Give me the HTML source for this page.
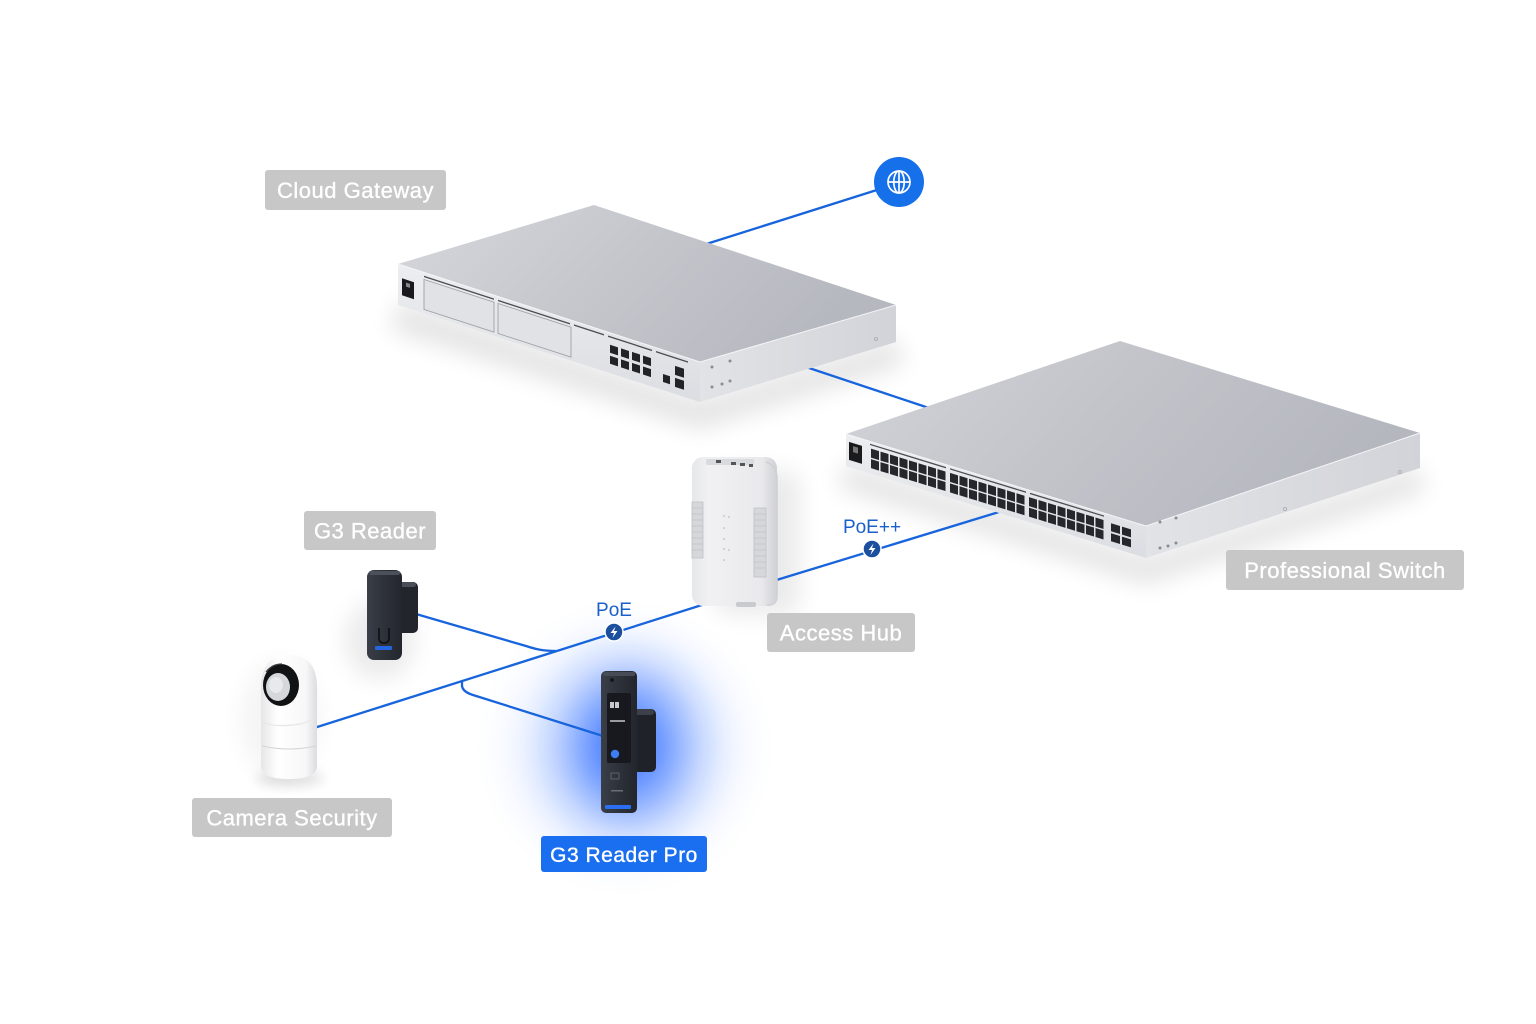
<!DOCTYPE html>
<html>
<head>
<meta charset="utf-8">
<style>
  html,body{margin:0;padding:0;background:#ffffff;}
  body{width:1536px;height:1024px;overflow:hidden;}
  svg{display:block;}
  .lbl{font-family:"Liberation Sans",sans-serif;font-size:22px;fill:#ffffff;letter-spacing:0.5px;stroke:#ffffff;stroke-width:0.35px;}
  .poe{font-family:"Liberation Sans",sans-serif;font-size:19px;fill:#1b5fca;}
</style>
</head>
<body>
<svg width="1536" height="1024" viewBox="0 0 1536 1024" xmlns="http://www.w3.org/2000/svg">
  <defs>
    <filter id="blur12" x="-50%" y="-50%" width="200%" height="200%"><feGaussianBlur stdDeviation="12"/></filter>
    <filter id="blur6" x="-50%" y="-50%" width="200%" height="200%"><feGaussianBlur stdDeviation="6"/></filter>
    <filter id="blur30" x="-100%" y="-100%" width="300%" height="300%"><feGaussianBlur stdDeviation="30"/></filter>
    <linearGradient id="topG" x1="0" y1="0" x2="1" y2="0.3">
      <stop offset="0" stop-color="#d6d7dc"/>
      <stop offset="0.55" stop-color="#c4c5cb"/>
      <stop offset="1" stop-color="#b6b8c0"/>
    </linearGradient>
    <linearGradient id="topS" x1="0" y1="0" x2="1" y2="0.3">
      <stop offset="0" stop-color="#d3d4d9"/>
      <stop offset="0.5" stop-color="#c3c4ca"/>
      <stop offset="1" stop-color="#b5b7bf"/>
    </linearGradient>
    <linearGradient id="frontG" x1="0" y1="0" x2="0" y2="1">
      <stop offset="0" stop-color="#eceef1"/>
      <stop offset="1" stop-color="#dcdde2"/>
    </linearGradient>
    <linearGradient id="rightG" x1="0" y1="0" x2="1" y2="0">
      <stop offset="0" stop-color="#e2e3e7"/>
      <stop offset="1" stop-color="#d2d3d8"/>
    </linearGradient>
    <linearGradient id="hubG" x1="0" y1="0" x2="1" y2="0">
      <stop offset="0" stop-color="#e6e7e9"/>
      <stop offset="0.2" stop-color="#f1f1f3"/>
      <stop offset="0.82" stop-color="#e9e9ec"/>
      <stop offset="1" stop-color="#d0d1d5"/>
    </linearGradient>
    <linearGradient id="camG" x1="0" y1="0" x2="1" y2="0">
      <stop offset="0" stop-color="#e6e6e8"/>
      <stop offset="0.3" stop-color="#ffffff"/>
      <stop offset="0.8" stop-color="#f7f7f8"/>
      <stop offset="1" stop-color="#dcdcdf"/>
    </linearGradient>
    <linearGradient id="darkG" x1="0" y1="0" x2="1" y2="0">
      <stop offset="0" stop-color="#3a3e48"/>
      <stop offset="0.5" stop-color="#2d3139"/>
      <stop offset="1" stop-color="#23262d"/>
    </linearGradient>
    <radialGradient id="glowG" cx="0.5" cy="0.5" r="0.5">
      <stop offset="0" stop-color="#2a6bff" stop-opacity="0.8"/>
      <stop offset="0.35" stop-color="#4a84ff" stop-opacity="0.42"/>
      <stop offset="0.7" stop-color="#9ab7ff" stop-opacity="0.14"/>
      <stop offset="1" stop-color="#ffffff" stop-opacity="0"/>
    </radialGradient>
  </defs>

  <!-- shadows -->
  <polygon points="400,300 700,398 896,338 905,365 700,430 390,330" fill="#000" opacity="0.10" filter="url(#blur12)"/>
  <polygon points="846,462 1146,556 1420,466 1425,492 1146,585 838,488" fill="#000" opacity="0.10" filter="url(#blur12)"/>
  <rect x="715" y="470" width="85" height="145" rx="14" fill="#000" opacity="0.08" filter="url(#blur12)"/>
  <ellipse cx="380" cy="640" rx="35" ry="40" fill="#000" opacity="0.08" filter="url(#blur12)"/>
  <ellipse cx="290" cy="778" rx="34" ry="8" fill="#000" opacity="0.12" filter="url(#blur6)"/>
  <ellipse cx="280" cy="720" rx="40" ry="60" fill="#000" opacity="0.04" filter="url(#blur12)"/>

  <!-- glow behind G3 Reader Pro -->
  <ellipse cx="625" cy="748" rx="155" ry="155" fill="url(#glowG)"/>
  <ellipse cx="628" cy="745" rx="40" ry="68" fill="#2a66ff" opacity="0.65" filter="url(#blur30)"/>

  <!-- connectors -->
  <g stroke="#1764dc" stroke-width="2.3" fill="none" stroke-linecap="round" stroke-linejoin="round">
    <line x1="880" y1="189" x2="700" y2="246"/>
    <line x1="806" y1="367" x2="935" y2="410"/>
    <line x1="1012" y1="508" x2="770" y2="582"/>
    <line x1="724" y1="598" x2="314" y2="728"/>
    <path d="M416,614 L526,646 C535,649 543,651 556,651"/>
    <path d="M462,681 L462,686 Q463,692 473,695 L603,736"/>
  </g>

  <!-- Cloud Gateway -->
  <g>
    <polygon points="398,264 594,205 896,305 700,362" fill="url(#topG)"/>
    <polygon points="398,264 700,362 700,402 398,305" fill="url(#frontG)"/>
    <polygon points="700,362 896,305 896,342 700,402" fill="url(#rightG)"/>
    <polyline points="398,264 700,362 896,305" fill="none" stroke="#f4f5f7" stroke-width="1"/>
    <g transform="matrix(1,0.3245,0,1,398,264)">
      <rect x="4" y="13" width="12" height="17" fill="#1a1a1c"/>
      <rect x="8" y="16" width="4" height="4" fill="#888"/>
      <line x1="26" y1="4" x2="96" y2="4" stroke="#4a4c52" stroke-width="1.4"/>
      <line x1="100" y1="4" x2="172" y2="4" stroke="#4a4c52" stroke-width="1.4"/>
      <line x1="176" y1="4" x2="206" y2="4" stroke="#4a4c52" stroke-width="1.4"/>
      <line x1="210" y1="4" x2="254" y2="4" stroke="#4a4c52" stroke-width="1.4"/>
      <line x1="258" y1="4" x2="290" y2="4" stroke="#4a4c52" stroke-width="1.4"/>
      <rect x="26" y="7" width="70" height="30" fill="#e1e2e6" stroke="#9fa1a8" stroke-width="0.9"/>
      <rect x="100" y="7" width="73" height="30" fill="#e1e2e6" stroke="#9fa1a8" stroke-width="0.9"/>
      <rect x="212" y="12" width="8" height="8" fill="#222327"/>
      <rect x="223" y="12" width="8" height="8" fill="#222327"/>
      <rect x="234" y="12" width="8" height="8" fill="#222327"/>
      <rect x="245" y="12" width="8" height="8" fill="#222327"/>
      <rect x="212" y="23" width="8" height="8" fill="#222327"/>
      <rect x="223" y="23" width="8" height="8" fill="#222327"/>
      <rect x="234" y="23" width="8" height="8" fill="#222327"/>
      <rect x="245" y="23" width="8" height="8" fill="#222327"/>
      <rect x="265" y="24" width="7" height="8" fill="#222327"/>
      <rect x="277" y="12" width="9" height="9" fill="#222327"/>
      <rect x="277" y="24" width="9" height="9" fill="#222327"/>
    </g>
    <circle cx="712" cy="367" r="1.5" fill="#8a8c92"/>
    <circle cx="730" cy="361" r="1.5" fill="#8a8c92"/>
    <circle cx="712" cy="387" r="1.5" fill="#8a8c92"/>
    <circle cx="722" cy="384" r="1.5" fill="#8a8c92"/>
    <circle cx="730" cy="381" r="1.5" fill="#8a8c92"/>
    <circle cx="876" cy="339" r="1.6" fill="none" stroke="#a9abb1" stroke-width="0.8"/>
  </g>

  <!-- Professional Switch -->
  <g>
    <polygon points="846,434 1120,341 1420,433 1146,526" fill="url(#topS)"/>
    <polygon points="846,434 1146,526 1146,558 846,466" fill="url(#frontG)"/>
    <polygon points="1146,526 1420,433 1420,468 1146,558" fill="url(#rightG)"/>
    <polyline points="846,434 1146,526 1420,433" fill="none" stroke="#f4f5f7" stroke-width="1"/>
    <g transform="matrix(1,0.3067,0,1,846,434)">
      <rect x="3" y="7" width="13" height="18" fill="#1a1a1c"/>
      <rect x="7" y="10" width="5" height="6" fill="#777"/>
      <line x1="24" y1="3" x2="100" y2="3" stroke="#4a4c52" stroke-width="1.3"/>
      <line x1="104" y1="3" x2="180" y2="3" stroke="#4a4c52" stroke-width="1.3"/>
      <line x1="184" y1="3" x2="258" y2="3" stroke="#4a4c52" stroke-width="1.3"/>
      <g id="pg" fill="#25272c">
        <rect x="25" y="7" width="8" height="9"/><rect x="34.5" y="7" width="8" height="9"/><rect x="44" y="7" width="8" height="9"/><rect x="53.5" y="7" width="8" height="9"/>
        <rect x="63" y="7" width="8" height="9"/><rect x="72.5" y="7" width="8" height="9"/><rect x="82" y="7" width="8" height="9"/><rect x="91.5" y="7" width="8" height="9"/>
        <rect x="25" y="17.5" width="8" height="9"/><rect x="34.5" y="17.5" width="8" height="9"/><rect x="44" y="17.5" width="8" height="9"/><rect x="53.5" y="17.5" width="8" height="9"/>
        <rect x="63" y="17.5" width="8" height="9"/><rect x="72.5" y="17.5" width="8" height="9"/><rect x="82" y="17.5" width="8" height="9"/><rect x="91.5" y="17.5" width="8" height="9"/>
      </g>
      <g fill="#25272c" transform="translate(79,0)">
        <rect x="25" y="7" width="8" height="9"/><rect x="34.5" y="7" width="8" height="9"/><rect x="44" y="7" width="8" height="9"/><rect x="53.5" y="7" width="8" height="9"/>
        <rect x="63" y="7" width="8" height="9"/><rect x="72.5" y="7" width="8" height="9"/><rect x="82" y="7" width="8" height="9"/><rect x="91.5" y="7" width="8" height="9"/>
        <rect x="25" y="17.5" width="8" height="9"/><rect x="34.5" y="17.5" width="8" height="9"/><rect x="44" y="17.5" width="8" height="9"/><rect x="53.5" y="17.5" width="8" height="9"/>
        <rect x="63" y="17.5" width="8" height="9"/><rect x="72.5" y="17.5" width="8" height="9"/><rect x="82" y="17.5" width="8" height="9"/><rect x="91.5" y="17.5" width="8" height="9"/>
      </g>
      <g fill="#25272c" transform="translate(158,0)">
        <rect x="25" y="7" width="8" height="9"/><rect x="34.5" y="7" width="8" height="9"/><rect x="44" y="7" width="8" height="9"/><rect x="53.5" y="7" width="8" height="9"/>
        <rect x="63" y="7" width="8" height="9"/><rect x="72.5" y="7" width="8" height="9"/><rect x="82" y="7" width="8" height="9"/><rect x="91.5" y="7" width="8" height="9"/>
        <rect x="25" y="17.5" width="8" height="9"/><rect x="34.5" y="17.5" width="8" height="9"/><rect x="44" y="17.5" width="8" height="9"/><rect x="53.5" y="17.5" width="8" height="9"/>
        <rect x="63" y="17.5" width="8" height="9"/><rect x="72.5" y="17.5" width="8" height="9"/><rect x="82" y="17.5" width="8" height="9"/><rect x="91.5" y="17.5" width="8" height="9"/>
      </g>
      <g fill="#25272c">
        <rect x="265" y="8" width="9" height="8"/><rect x="276" y="8" width="9" height="8"/>
        <rect x="265" y="18" width="9" height="8"/><rect x="276" y="18" width="9" height="8"/>
      </g>
    </g>
    <circle cx="1160" cy="522" r="1.5" fill="#8a8c92"/>
    <circle cx="1176" cy="518" r="1.5" fill="#8a8c92"/>
    <circle cx="1160" cy="548" r="1.5" fill="#8a8c92"/>
    <circle cx="1168" cy="546" r="1.5" fill="#8a8c92"/>
    <circle cx="1176" cy="543" r="1.5" fill="#8a8c92"/>
    <circle cx="1285" cy="509" r="1.6" fill="none" stroke="#a9abb1" stroke-width="0.8"/>
    <circle cx="1400" cy="472" r="1.6" fill="none" stroke="#a9abb1" stroke-width="0.8"/>
  </g>

  <!-- Access Hub -->
  <g>
    <rect x="692" y="457" width="85" height="149" rx="11" fill="url(#hubG)"/>
    <path d="M766,462 Q777,466 777,478 L777,596 Q777,606 767,605" fill="none" stroke="#cfd0d4" stroke-width="1.5"/>
    <rect x="706" y="459" width="48" height="6" rx="2" fill="#d9dadd"/>
    <rect x="716" y="460" width="5" height="3" fill="#555"/>
    <rect x="731" y="462" width="5" height="3" fill="#555"/>
    <rect x="740" y="463" width="5" height="3" fill="#555"/>
    <rect x="749" y="464" width="4" height="3" fill="#555"/>
    <rect x="692" y="502" width="11" height="56" fill="#d6d7da" stroke="#c0c1c5" stroke-width="0.8"/>
    <rect x="754" y="508" width="12" height="69" fill="#d6d7da" stroke="#c0c1c5" stroke-width="0.8"/>
    <g stroke="#bfc0c4" stroke-width="0.7">
      <line x1="692" y1="508" x2="703" y2="508"/><line x1="692" y1="514" x2="703" y2="514"/><line x1="692" y1="520" x2="703" y2="520"/>
      <line x1="692" y1="526" x2="703" y2="526"/><line x1="692" y1="532" x2="703" y2="532"/><line x1="692" y1="538" x2="703" y2="538"/>
      <line x1="692" y1="544" x2="703" y2="544"/><line x1="692" y1="550" x2="703" y2="550"/>
      <line x1="754" y1="514" x2="766" y2="514"/><line x1="754" y1="520" x2="766" y2="520"/><line x1="754" y1="526" x2="766" y2="526"/>
      <line x1="754" y1="532" x2="766" y2="532"/><line x1="754" y1="538" x2="766" y2="538"/><line x1="754" y1="544" x2="766" y2="544"/>
      <line x1="754" y1="550" x2="766" y2="550"/><line x1="754" y1="556" x2="766" y2="556"/><line x1="754" y1="562" x2="766" y2="562"/>
      <line x1="754" y1="568" x2="766" y2="568"/>
    </g>
    <g fill="#b0b1b5">
      <circle cx="724" cy="516" r="0.8"/><circle cx="729" cy="517" r="0.8"/>
      <circle cx="724" cy="528" r="0.8"/><circle cx="724" cy="539" r="0.8"/>
      <circle cx="724" cy="549" r="0.8"/><circle cx="729" cy="550" r="0.8"/>
      <circle cx="724" cy="560" r="0.8"/>
    </g>
    <rect x="736" y="602" width="20" height="5" rx="2" fill="#c9cacd"/>
  </g>

  <!-- G3 Reader -->
  <g>
    <rect x="395" y="582" width="23" height="51" rx="5" fill="#22252c"/>
    <rect x="396" y="582" width="20" height="5" rx="2.5" fill="#4a4e58"/>
    <rect x="367" y="570" width="35" height="90" rx="7" fill="url(#darkG)"/>
    <rect x="369" y="571" width="31" height="4" rx="2" fill="#4c505a"/>
    <path d="M379,628 L379,638 Q379,643 384,643 Q389,643 389,638 L389,628" fill="none" stroke="#0e0f12" stroke-width="1.6"/>
    <rect x="375" y="646" width="17" height="4" rx="1" fill="#2565e0"/>
  </g>

  <!-- Camera -->
  <g>
    <path d="M261,688 Q261,655 289,655 Q317,655 317,688 L317,766 Q317,779 289,779 Q261,779 261,766 Z" fill="url(#camG)"/>
    <path d="M262,722 Q275,728 300,724 Q312,721 317,716" fill="none" stroke="#e6e6e8" stroke-width="1.2"/>
    <path d="M262,746 Q289,752 316,746" fill="none" stroke="#d4d4d7" stroke-width="1"/>
    <ellipse cx="281" cy="685" rx="18" ry="21" fill="#111214"/>
    <ellipse cx="278" cy="687" rx="12" ry="14" fill="#d6d7db"/>
    <ellipse cx="276" cy="685" rx="7" ry="8" fill="#e8e9ec"/>
    <path d="M266,672 Q272,664 282,664" fill="none" stroke="#3a3b3f" stroke-width="1.2"/>
  </g>

  <!-- G3 Reader Pro -->
  <g>
    <rect x="632" y="709" width="24" height="63" rx="5" fill="#1f2229"/>
    <rect x="633" y="709" width="21" height="6" rx="3" fill="#3c4049"/>
    <rect x="601" y="671" width="36" height="142" rx="5" fill="url(#darkG)"/>
    <rect x="603" y="672" width="32" height="4" rx="2" fill="#474b55"/>
    <circle cx="612" cy="680" r="2" fill="#15171b"/>
    <rect x="607" y="693" width="24" height="70" rx="2" fill="#17191e"/>
    <rect x="610" y="702" width="4" height="6" fill="#c8c9cc"/>
    <rect x="615" y="702" width="4" height="6" fill="#c8c9cc"/>
    <rect x="610" y="720" width="15" height="2" fill="#9a9ca2"/>
    <circle cx="615" cy="754" r="4.2" fill="#3d7df2"/>
    <rect x="611" y="773" width="8" height="6" fill="none" stroke="#6a6d74" stroke-width="0.8"/>
    <rect x="611" y="790" width="12" height="1.5" fill="#6a6d74"/>
    <rect x="605" y="805" width="26" height="4" rx="1" fill="#2a6ff2"/>
  </g>

  <!-- Globe -->
  <g>
    <circle cx="899" cy="182" r="25" fill="#1670ea"/>
    <g fill="none" stroke="#ffffff" stroke-width="1.7">
      <circle cx="899" cy="182" r="11"/>
      <ellipse cx="899" cy="182" rx="5.2" ry="11"/>
      <line x1="899" y1="171" x2="899" y2="193"/>
      <line x1="888" y1="182" x2="910" y2="182"/>
    </g>
  </g>

  <!-- PoE badges -->
  <g>
    <text class="poe" x="872" y="533" text-anchor="middle">PoE++</text>
    <circle cx="872" cy="549" r="9" fill="#1c4f9e" stroke="#ffffff" stroke-width="1.5"/>
    <path d="M873.5,543.5 L868.5,550 L872,550 L870.5,555 L875.5,548 L872,548 Z" fill="#ffffff"/>
    <text class="poe" x="614" y="616" text-anchor="middle">PoE</text>
    <circle cx="614" cy="632" r="9" fill="#1c4f9e" stroke="#ffffff" stroke-width="1.5"/>
    <path d="M615.5,626.5 L610.5,633 L614,633 L612.5,638 L617.5,631 L614,631 Z" fill="#ffffff"/>
  </g>

  <!-- Labels -->
  <g>
    <rect x="265" y="170" width="181" height="40" rx="3" fill="#c7c7c7"/>
    <text class="lbl" x="355.5" y="198" text-anchor="middle">Cloud Gateway</text>

    <rect x="304" y="511" width="132" height="39" rx="3" fill="#c7c7c7"/>
    <text class="lbl" x="370" y="538.5" text-anchor="middle">G3 Reader</text>

    <rect x="767" y="613" width="148" height="39" rx="3" fill="#c7c7c7"/>
    <text class="lbl" x="841" y="640.5" text-anchor="middle">Access Hub</text>

    <rect x="1226" y="550" width="238" height="40" rx="3" fill="#c7c7c7"/>
    <text class="lbl" x="1345" y="578" text-anchor="middle">Professional Switch</text>

    <rect x="192" y="798" width="200" height="39" rx="3" fill="#c7c7c7"/>
    <text class="lbl" x="292" y="825.5" text-anchor="middle">Camera Security</text>

    <rect x="541" y="836" width="166" height="36" rx="3" fill="#1a6ff0"/>
    <text class="lbl" x="624" y="862" text-anchor="middle" style="font-size:21px">G3 Reader Pro</text>
  </g>
</svg>
</body>
</html>
